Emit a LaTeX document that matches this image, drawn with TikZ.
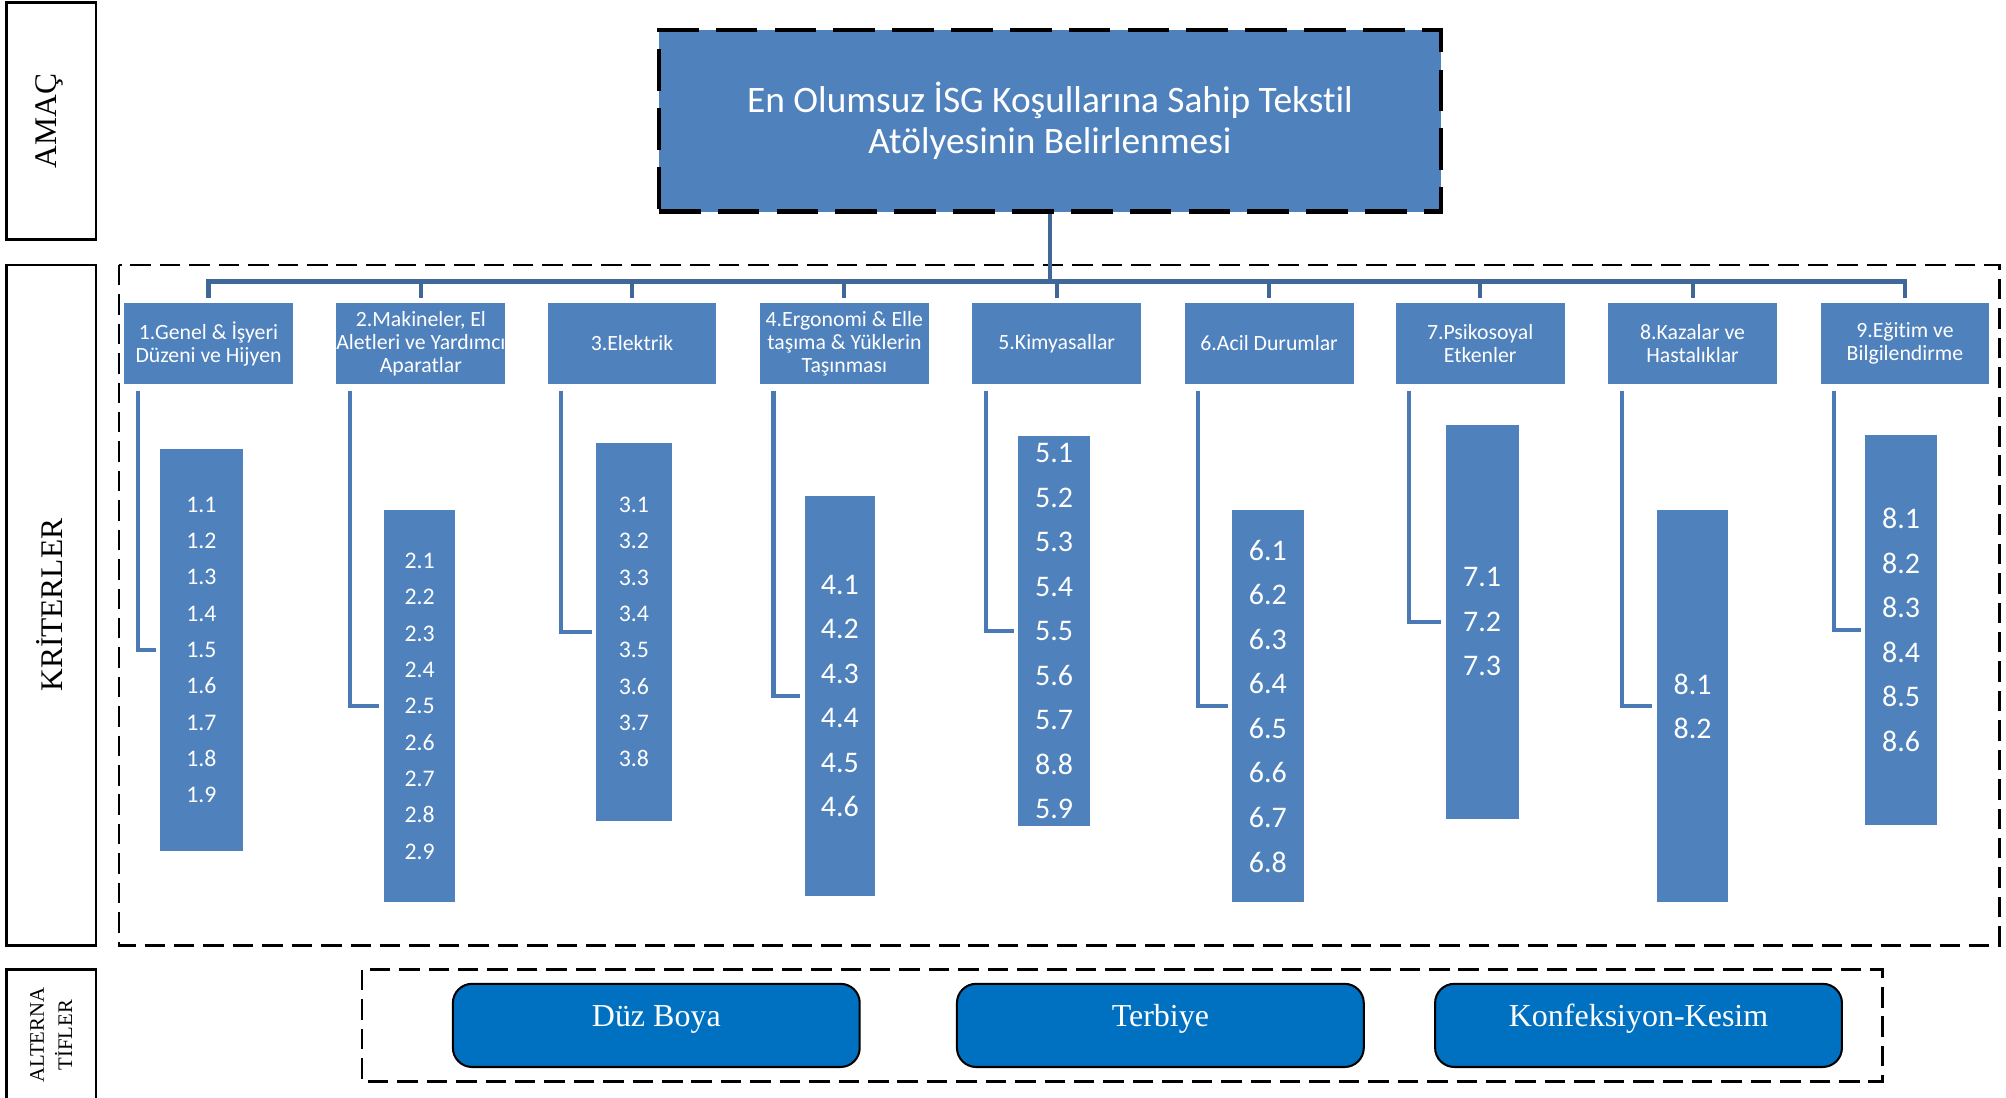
\documentclass[tikz,border=0pt]{standalone}
\usepackage{fontspec}
\setmainfont{Liberation Serif}
\newfontfamily\calfont[Ligatures=NoCommon]{Carlito}

\definecolor{boxblue}{HTML}{4F81BD}
\definecolor{linkblue}{HTML}{3F6899}
\definecolor{elbowblue}{HTML}{4A79B6}
\definecolor{altblue}{HTML}{0070C0}

\begin{document}
\begin{tikzpicture}[x=0.5pt,y=-0.5pt,
  sidebox/.style={draw=black, line width=1pt, rotate=90, inner sep=0pt},
  sidetext/.style={rotate=90, inner sep=0pt, align=center},
  goalbox/.style={fill=boxblue, draw=black, line width=1.8pt,
    dash pattern=on 16.3pt off 6.7pt, minimum width=305.75pt, minimum height=71pt,
    text=white, align=center, inner sep=0pt,
    font=\calfont\fontsize{14.6}{16.3}\selectfont},
  critbox/.style={fill=boxblue, minimum width=66pt, minimum height=31.5pt,
    inner sep=0pt, text=white, align=center,
    font=\calfont\fontsize{8.5}{9}\selectfont},
  subsmall/.style={fill=boxblue, inner sep=0pt, text=white, align=center,
    font=\calfont\fontsize{9.3}{14.2}\selectfont},
  sublarge/.style={fill=boxblue, inner sep=0pt, text=white, align=center,
    font=\calfont\fontsize{11.7}{17.4}\selectfont},
  groupframe/.style={draw=black, line width=1pt, dash pattern=on 8pt off 3.5pt},
  bus/.style={draw=linkblue, line width=1.8pt},
  drop/.style={draw=linkblue, line width=1.6pt},
  elbow/.style={draw=elbowblue, line width=1.6pt, shorten >=1.5pt},
  altbox/.style={fill=altblue, draw=black, line width=0.8pt, rounded corners=7.5pt,
    minimum width=159pt, minimum height=32.5pt, inner sep=0pt},
  alttext/.style={text=white, inner sep=0pt, font=\fontsize{12.5}{14}\selectfont}
]
\fill[white] (0,0) rectangle (1568,858);
\useasboundingbox (0,0) rectangle (1568,858);

% ---- side labels ----
\node[sidebox, minimum width=92.5pt, minimum height=35pt] (amac) at (40,94.5) {};
\node[sidetext, font=\fontsize{12.3}{14}\selectfont] (amacT) at (39,94.5) {AMAÇ};
\node[sidebox, minimum width=266pt, minimum height=35pt] (krit) at (40,473) {};
\node[sidetext, font=\fontsize{12.3}{14}\selectfont] (kritT) at (39,473) {KRİTERLER};
\node[sidebox, minimum width=61pt, minimum height=35pt] (alts) at (40,819) {};
\node[sidetext, font=\fontsize{8.1}{11}\selectfont] (altsT) at (40,809) {ALTERNA\\TİFLER};

% ---- group frames ----
\draw[groupframe] (93,207) rectangle (1563,739);
\draw[groupframe] (283,758) rectangle (1471.5,845.5);

% ---- goal ----
\node[goalbox] (goal) at (820.75,94.5) {En Olumsuz İSG Koşullarına Sahip Tekstil\\Atölyesinin Belirlenmesi};

% ---- criteria ----
\node[critbox] (c1) at (163,268.5) {1.Genel \& İşyeri\\Düzeni ve Hijyen};
\node[critbox] (c2) at (329,268.5) {2.Makineler, El\\Aletleri ve Yardımcı\\Aparatlar};
\node[critbox] (c3) at (494,268.5) {3.Elektrik};
\node[critbox] (c4) at (660,268.5) {4.Ergonomi \& Elle\\taşıma \& Yüklerin\\Taşınması};
\node[critbox] (c5) at (826,268.5) {5.Kimyasallar};
\node[critbox] (c6) at (992,268.5) {6.Acil Durumlar};
\node[critbox] (c7) at (1157,268.5) {7.Psikosoyal\\Etkenler};
\node[critbox] (c8) at (1323,268.5) {8.Kazalar ve\\Hastalıklar};
\node[critbox] (c9) at (1489,268.5) {9.Eğitim ve\\Bilgilendirme};

% ---- sub-criteria ----
\node[subsmall, minimum width=32.5pt, minimum height=157pt] (s1) at (157.5,508)
  {1.1\\1.2\\1.3\\1.4\\1.5\\1.6\\1.7\\1.8\\1.9};
\node[subsmall, minimum width=28pt, minimum height=153pt] (s2) at (328,552)
  {2.1\\2.2\\2.3\\2.4\\2.5\\2.6\\2.7\\2.8\\2.9};
\node[subsmall, minimum width=29.5pt, minimum height=148pt] (s3) at (495.5,494)
  {3.1\\3.2\\3.3\\3.4\\3.5\\3.6\\3.7\\3.8};
\node[sublarge, minimum width=27.5pt, minimum height=156pt] (s4) at (656.5,544)
  {4.1\\4.2\\4.3\\4.4\\4.5\\4.6};
\node[sublarge, minimum width=28pt, minimum height=152.5pt] (s5) at (824,493.5)
  {5.1\\5.2\\5.3\\5.4\\5.5\\5.6\\5.7\\8.8\\5.9};
\node[sublarge, minimum width=28pt, minimum height=153pt] (s6) at (991,552)
  {6.1\\6.2\\6.3\\6.4\\6.5\\6.6\\6.7\\6.8};
\node[sublarge, minimum width=28.5pt, minimum height=154pt] (s7) at (1158.5,486)
  {7.1\\7.2\\7.3};
\node[sublarge, minimum width=28pt, minimum height=153pt] (s8) at (1323,552)
  {8.1\\8.2};
\node[sublarge, minimum width=28pt, minimum height=152.5pt] (s9) at (1486,492.5)
  {8.1\\8.2\\8.3\\8.4\\8.5\\8.6};

% ---- hierarchy connectors ----
\coordinate (busy) at (0,220);
\draw[drop] (goal.south) -- (goal.south |- busy);
\draw[bus] ([yshift=2pt]c1.north) -- (c1.north |- busy) -- (c9.north |- busy) -- ([yshift=2pt]c9.north);
\foreach \i in {2,...,8}{
  \draw[drop] (c\i.north |- busy) -- ([yshift=2pt]c\i.north);
}
\foreach \i in {1,...,9}{
  \draw[elbow] ([xshift=5.5pt,yshift=-2.5pt]c\i.south west) |- (s\i.west);
}

% ---- alternatives ----
\node[altbox] (a1) at (513,801.5) {};
\node[altbox] (a2) at (907,801.5) {};
\node[altbox] (a3) at (1280.75,801.5) {};
\node[alttext] (a1T) at ([yshift=2.5pt]a1.center) {Düz Boya};
\node[alttext] (a2T) at ([yshift=2.5pt]a2.center) {Terbiye};
\node[alttext] (a3T) at ([yshift=2.5pt]a3.center) {Konfeksiyon-Kesim};
\end{tikzpicture}
\end{document}
